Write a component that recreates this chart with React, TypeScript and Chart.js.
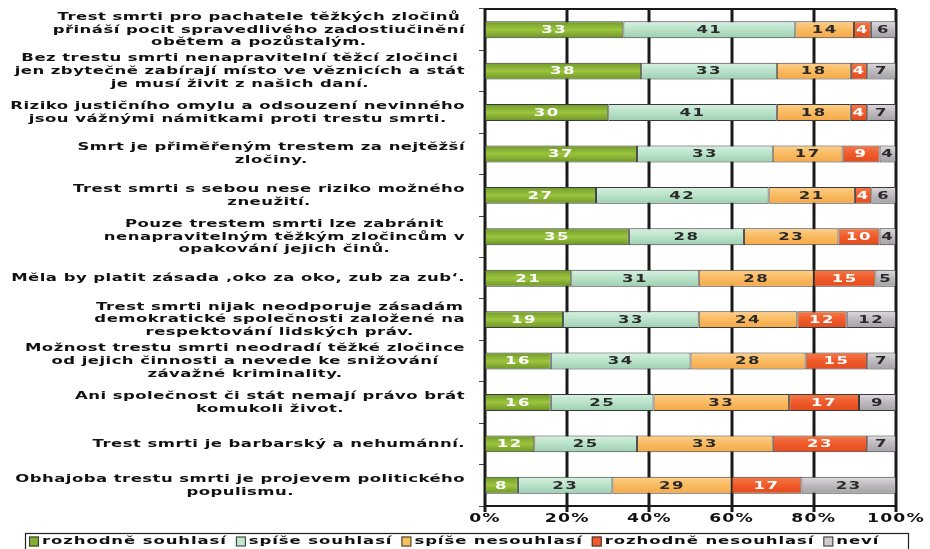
import { useEffect, useRef } from "react";
import { Chart, registerables } from "chart.js";

Chart.register(...registerables);

const statements: string[][] = [
  ["Trest smrti pro pachatele těžkých zločinů", "přináší pocit spravedlivého zadostiučinění", "obětem a pozůstalým."],
  ["Bez trestu smrti nenapravitelní těžcí zločinci", "jen zbytečně zabírají místo ve věznicích a stát", "je musí živit z našich daní."],
  ["Riziko justičního omylu a odsouzení nevinného", "jsou vážnými námitkami proti trestu smrti."],
  ["Smrt je přiměřeným trestem za nejtěžší", "zločiny."],
  ["Trest smrti s sebou nese riziko možného", "zneužití."],
  ["Pouze trestem smrti lze zabránit", "nenapravitelným těžkým zločincům v", "opakování jejich činů."],
  ["Měla by platit zásada ‚oko za oko, zub za zub‘."],
  ["Trest smrti nijak neodporuje zásadám", "demokratické společnosti založené na", "respektování lidských práv."],
  ["Možnost trestu smrti neodradí těžké zločince", "od jejich činnosti a nevede ke snižování", "závažné kriminality."],
  ["Ani společnost či stát nemají právo brát", "komukoli život."],
  ["Trest smrti je barbarský a nehumánní."],
  ["Obhajoba trestu smrti je projevem politického", "populismu."],
];

const seriesNames = ["rozhodně souhlasí", "spíše souhlasí", "spíše nesouhlasí", "rozhodně nesouhlasí", "neví"];

const rozhodneSouhlasi = [33, 38, 30, 37, 27, 35, 21, 19, 16, 16, 12, 8];
const spiseSouhlasi = [41, 33, 41, 33, 42, 28, 31, 33, 34, 25, 25, 23];
const spiseNesouhlasi = [14, 18, 18, 17, 21, 23, 28, 24, 28, 33, 33, 29];
const rozhodneNesouhlasi = [4, 4, 4, 9, 4, 10, 15, 12, 15, 17, 23, 17];
const nevi = [6, 7, 7, 4, 6, 4, 5, 12, 7, 9, 7, 23];

const xTicks = [0, 20, 40, 60, 80, 100];

const series = [rozhodneSouhlasi, spiseSouhlasi, spiseNesouhlasi, rozhodneNesouhlasi, nevi];

// gradient stops per series: [top, middle, bottom]
const gradStops = [
  ["#6e9a2a", "#9cc43e", "#6a9426"],
  ["#d8f1e2", "#b9e2c9", "#9ccfb0"],
  ["#fdd08c", "#f9ba60", "#f5a848"],
  ["#f57a4a", "#ef5a2a", "#e24c1e"],
  ["#dedade", "#bdb8bd", "#a6a1a6"],
];
const legendColors = ["#7fae32", "#c2e8cc", "#f9c060", "#ef5a2a", "#d0ccd0"];
const labelColors = ["#ffffff", "#2a2a2a", "#2a2a2a", "#ffffff", "#2a2a2a"];

const FONT = '"DejaVu Sans", Verdana, sans-serif';
const SX = 1.5;
const BAR_HALF = 8.5;

function drawStretched(ctx: CanvasRenderingContext2D, text: string, x: number, y: number, align: CanvasTextAlign, sx: number) {
  ctx.save();
  ctx.translate(x, y);
  ctx.scale(sx, 1);
  ctx.textAlign = align;
  ctx.textBaseline = "middle";
  ctx.fillText(text, 0, 0);
  ctx.restore();
}

const gridPlugin = {
  id: "pctGrid",
  beforeDatasetsDraw(chart: any) {
    const ctx: CanvasRenderingContext2D = chart.ctx;
    const area = chart.chartArea;
    const xScale = chart.scales.x;
    ctx.save();
    ctx.fillStyle = "#1a1a1a";
    xTicks.forEach((v) => {
      const x = Math.round(xScale.getPixelForValue(v));
      ctx.fillRect(x - 1.5, area.top, 3, area.bottom - area.top + 6);
    });
    ctx.fillRect(area.left, area.top - 1, area.right - area.left, 2);
    ctx.fillRect(area.left, area.bottom - 1, area.right - area.left, 2);
    ctx.restore();
  },
};

const textPlugin = {
  id: "textPlugin",
  afterDraw(chart: any) {
    const ctx: CanvasRenderingContext2D = chart.ctx;
    const area = chart.chartArea;
    const yScale = chart.scales.y;
    const xScale = chart.scales.x;

    // category labels
    ctx.save();
    ctx.fillStyle = "#111";
    ctx.font = `bold 11px ${FONT}`;
    (ctx as any).letterSpacing = "0.3px";
    const lh = 12.8;
    statements.forEach((lines, i) => {
      const cy = yScale.getPixelForValue(i);
      const maxW = Math.max(...lines.map((l) => ctx.measureText(l).width)) * SX;
      const cx = area.left - 20 - maxW / 2;
      lines.forEach((line, j) => {
        const ly = cy - ((lines.length - 1) * lh) / 2 + j * lh;
        drawStretched(ctx, line, cx, ly, "center", SX);
      });
    });
    ctx.restore();

    // bar value labels
    ctx.save();
    ctx.font = `bold 11px ${FONT}`;
    (ctx as any).letterSpacing = "1px";
    chart.data.datasets.forEach((ds: any, di: number) => {
      const meta = chart.getDatasetMeta(di);
      meta.data.forEach((bar: any, i: number) => {
        const cx = (bar.x + bar.base) / 2;
        ctx.fillStyle = labelColors[di];
        drawStretched(ctx, String(series[di][i]), cx, bar.y + 0.5, "center", SX);
      });
    });
    ctx.restore();

    // x tick labels
    ctx.save();
    ctx.font = `bold 11.5px ${FONT}`;
    (ctx as any).letterSpacing = "0.8px";
    ctx.fillStyle = "#111";
    xTicks.forEach((v) => {
      drawStretched(ctx, `${v}%`, xScale.getPixelForValue(v), 519, "center", SX);
    });
    ctx.restore();

    // legend
    ctx.save();
    ctx.strokeStyle = "#222";
    ctx.lineWidth = 1.2;
    ctx.strokeRect(25.5, 533.5, 883, 30);
    ctx.font = `bold 11px ${FONT}`;
    (ctx as any).letterSpacing = "0.6px";
    let x = 29;
    const cy = 541.5;
    seriesNames.forEach((name, k) => {
      ctx.fillStyle = legendColors[k];
      ctx.fillRect(x, cy - 5, 10, 10);
      ctx.strokeStyle = "#333";
      ctx.lineWidth = 1;
      ctx.strokeRect(x + 0.5, cy - 4.5, 9, 9);
      ctx.fillStyle = "#111";
      const tx = x + 13;
      drawStretched(ctx, name, tx, cy, "left", SX);
      x = tx + ctx.measureText(name).width * SX + 9;
    });
    ctx.restore();
  },
};

export default function App() {
  const canvasRef = useRef<HTMLCanvasElement | null>(null);

  useEffect(() => {
    if (!canvasRef.current) return;
    const totals = statements.map((_, i) => series.reduce((s, arr) => s + arr[i], 0));
    const chart = new Chart(canvasRef.current, {
      type: "bar",
      data: {
        labels: statements.map((l) => l.join(" ")),
        datasets: series.map((arr, di) => ({
          label: seriesNames[di],
          data: arr.map((v, i) => (v / totals[i]) * 100),
          backgroundColor: (c: any) => {
            const ch = c.chart;
            const ys = ch.scales?.y;
            if (!ys || c.type !== "data") return gradStops[di][1];
            const cy = ys.getPixelForValue(c.dataIndex);
            if (!isFinite(cy)) return gradStops[di][1];
            const g = ch.ctx.createLinearGradient(0, cy - BAR_HALF, 0, cy + BAR_HALF);
            g.addColorStop(0, gradStops[di][0]);
            g.addColorStop(0.5, gradStops[di][1]);
            g.addColorStop(1, gradStops[di][2]);
            return g;
          },
          borderColor: "#3a3a3a",
          borderWidth: 1,
          borderSkipped: false,
          barPercentage: 0.41,
          categoryPercentage: 1,
        })),
      },
      options: {
        indexAxis: "y",
        animation: false,
        responsive: true,
        maintainAspectRatio: false,
        layout: { padding: { top: 9, right: 34, left: 0, bottom: 0 } },
        plugins: {
          legend: { display: false },
          tooltip: { enabled: false },
        },
        scales: {
          x: {
            stacked: true,
            min: 0,
            max: 100,
            ticks: { stepSize: 20, callback: () => "", padding: 0, autoSkip: false },
            grid: { display: false },
            border: { display: false },
            afterFit: (s: any) => {
              s.height = 43;
            },
          },
          y: {
            stacked: true,
            ticks: { callback: () => "", padding: 0, autoSkip: false },
            grid: { display: true, drawOnChartArea: false, color: "#444", lineWidth: 1, tickLength: 6, offset: true },
            border: { display: true, color: "#1a1a1a", width: 2 },
            afterFit: (s: any) => {
              s.width = 485;
            },
          },
        },
      },
      plugins: [gridPlugin, textPlugin],
    } as any);
    return () => chart.destroy();
  }, []);

  return (
    <div style={{ position: "absolute", left: 0, top: 0, width: 930, height: 549, background: "#fff" }}>
      <canvas ref={canvasRef} />
    </div>
  );
}
